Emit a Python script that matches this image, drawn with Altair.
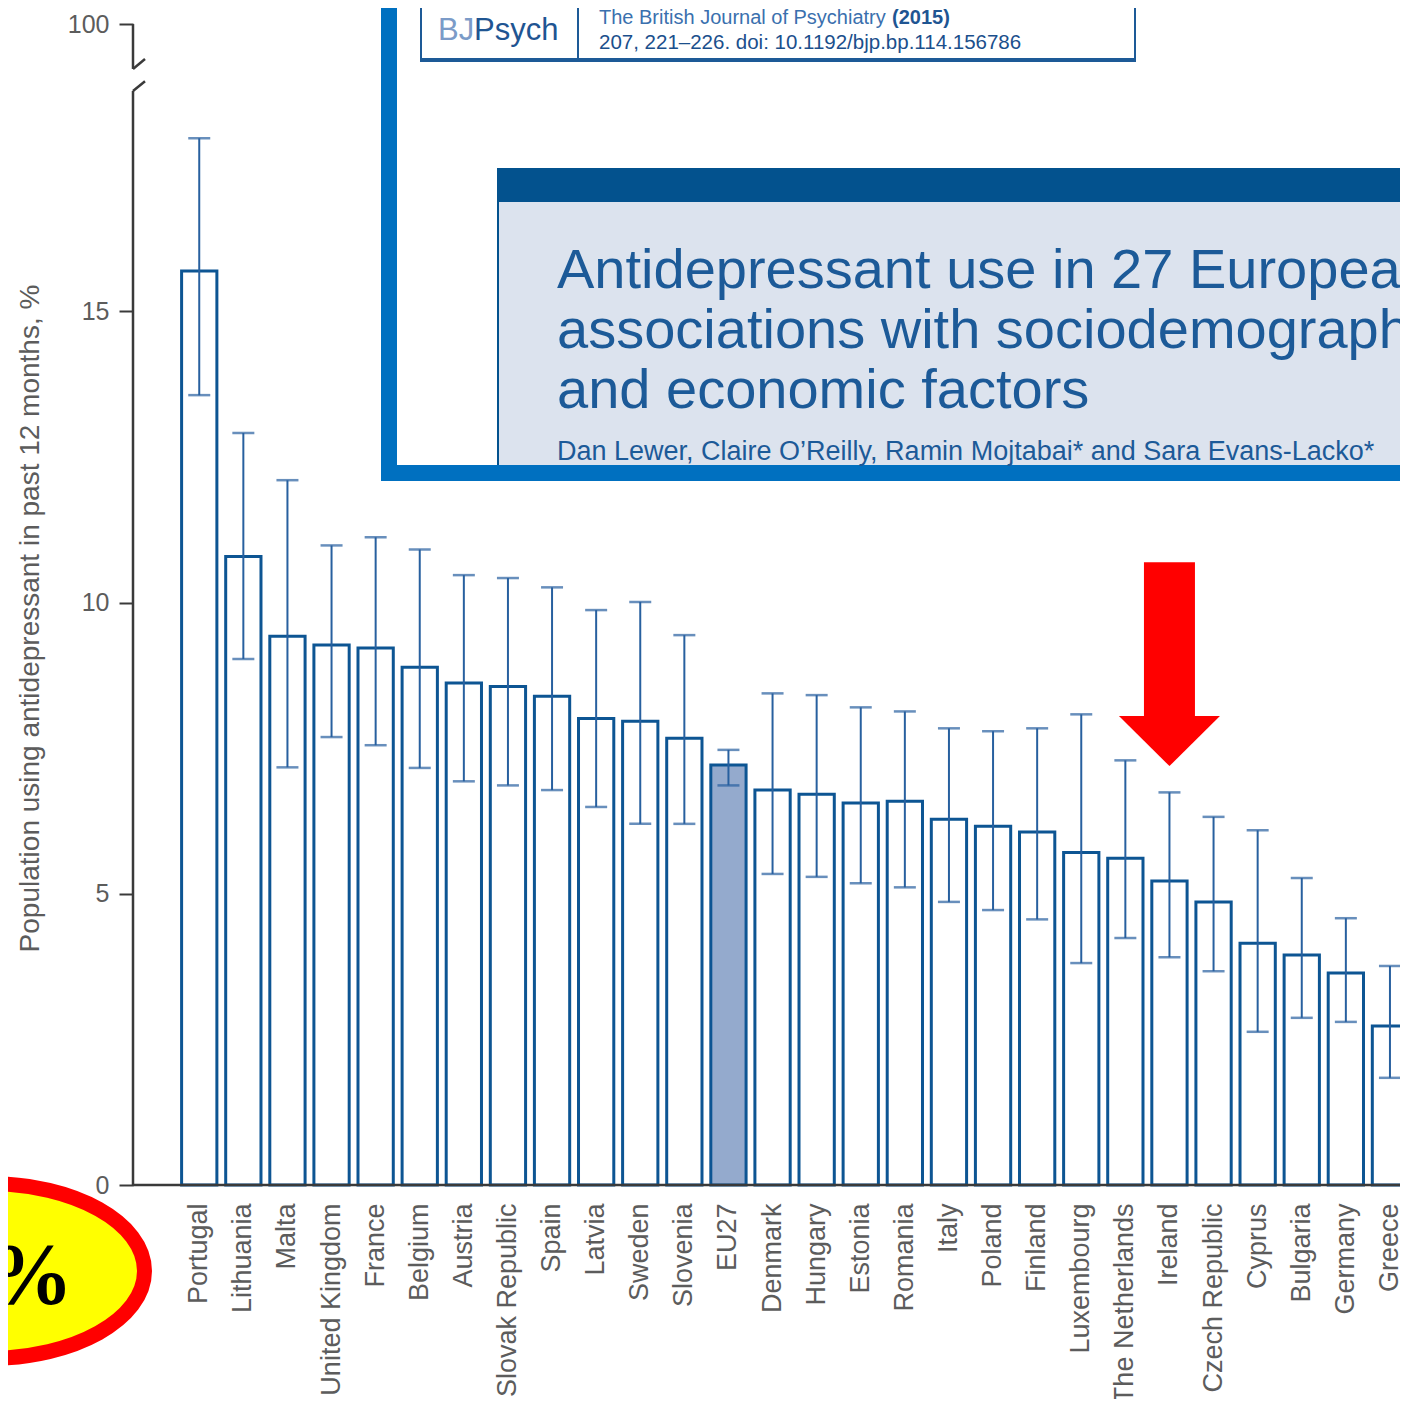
import altair as alt
import pandas as pd

# ---------------- data ----------------
countries = ["Portugal", "Lithuania", "Malta", "United Kingdom", "France", "Belgium",
             "Austria", "Slovak Republic", "Spain", "Latvia", "Sweden", "Slovenia",
             "EU27", "Denmark", "Hungary", "Estonia", "Romania", "Italy", "Poland",
             "Finland", "Luxembourg", "The Netherlands", "Ireland", "Czech Republic",
             "Cyprus", "Bulgaria", "Germany", "Greece"]
values = [15.69, 10.79, 9.42, 9.27, 9.22, 8.89, 8.62, 8.56, 8.39, 8.01, 7.96, 7.67,
          7.21, 6.78, 6.71, 6.56, 6.59, 6.28, 6.16, 6.06, 5.71, 5.61, 5.22, 4.86,
          4.15, 3.95, 3.64, 2.73]
ci_high = [17.97, 12.91, 12.10, 10.98, 11.12, 10.91, 10.47, 10.42, 10.26, 9.87, 10.01, 9.44,
           7.47, 8.44, 8.41, 8.20, 8.13, 7.84, 7.79, 7.84, 8.08, 7.29, 6.74, 6.32,
           6.09, 5.27, 4.58, 3.76]
ci_low = [13.56, 9.03, 7.17, 7.69, 7.55, 7.16, 6.93, 6.86, 6.78, 6.49, 6.20, 6.20,
          6.86, 5.34, 5.29, 5.18, 5.11, 4.86, 4.72, 4.56, 3.81, 4.24, 3.91, 3.67,
          2.63, 2.87, 2.80, 1.84]
highlight = "EU27"

y_title = "Population using antidepressant in past 12 months, %"
y_tick_values = [0, 5, 10, 15, 19.93]          # the top tick carries the "100" label (broken axis)
break_vertical_lo = [0, 19.16]
break_vertical_hi = [18.78, 19.93]
break_slash_lo = [18.78, 19.16]
break_slash_hi = [18.95, 19.33]
x_axis_value = [0]

arrow_target = ["Ireland"]
arrow_top = [10.69]
arrow_base = [8.05]

journal_name = "The British Journal of Psychiatry"
journal_year = "(2015)"
journal_ref = "207, 221–226. doi: 10.1192/bjp.bp.114.156786"
logo_parts = ["BJ", "Psych"]
title_lines = ["Antidepressant use in 27 European countries:",
               "associations with sociodemographic, cultural",
               "and economic factors"]
authors = "Dan Lewer, Claire O’Reilly, Ramin Mojtabai* and Sara Evans-Lacko*"
badge_text = "10%"

# ---------------- styles ----------------
BAR_BLUE = "#0d5593"
ERR_BLUE = "#28609f"
EU_FILL = "#94aacd"
AXIS_COL = "#3a3a3a"
LABEL_COL = "#5c5c5c"
FRAME_BLUE = "#0070c0"
DARK_BLUE = "#03528e"
TEXT_BLUE = "#1c5a98"
FONT = "Liberation Sans, Arial, sans-serif"
PLOT_W = 1267

df = pd.DataFrame({"country": countries, "value": values, "hi": ci_high, "lo": ci_low})
one = pd.DataFrame({"k": [0]})

x_main = alt.X(
    "country:N", sort=countries,
    scale=alt.Scale(range=[4.5, 1318.7], paddingInner=0.2, paddingOuter=1),
    axis=alt.Axis(title=None, labelAngle=270, ticks=False, labelPadding=18,
                  labelFontSize=27, labelColor=LABEL_COL, labelFont=FONT,
                  labelLimit=400, domain=False, grid=False),
)
x_plain = alt.X("country:N", sort=countries)

y_main = alt.Y(
    "value:Q",
    scale=alt.Scale(domain=[0, 20], nice=False),
    axis=alt.Axis(values=y_tick_values, format="d",
                  labelExpr="datum.value > 19 ? '100' : format(datum.value, 'd')",
                  domain=False, grid=False, tickSize=14, tickWidth=2, tickColor=AXIS_COL,
                  labelFontSize=25, labelColor=LABEL_COL, labelFont=FONT, labelPadding=10,
                  title=y_title, titleFontSize=28, titleFont=FONT, titleFontWeight="normal",
                  titleColor=LABEL_COL, titleX=-103, titleY=598,
                  titleBaseline="middle", titleAlign="center"),
    title=y_title,
)


def yq(field):
    return alt.Y(field + ":Q", title=y_title)


bars = alt.Chart(df).mark_bar(stroke=BAR_BLUE, strokeWidth=3).encode(
    x=x_main, y=y_main,
    fill=alt.condition(alt.datum.country == highlight, alt.value(EU_FILL), alt.value("white")),
)
err = alt.Chart(df).mark_rule(color=ERR_BLUE, strokeWidth=2).encode(
    x=x_plain, y=yq("lo"), y2=alt.Y2("hi:Q", title=y_title))
cap_hi = alt.Chart(df).mark_tick(color=ERR_BLUE, thickness=2.5, size=22).encode(x=x_plain, y=yq("hi"))
cap_lo = alt.Chart(df).mark_tick(color=ERR_BLUE, thickness=2.5, size=22).encode(x=x_plain, y=yq("lo"))

x_line = alt.Chart(pd.DataFrame({"v": x_axis_value})).mark_rule(
    color=AXIS_COL, strokeWidth=2.5).encode(x=alt.value(0), x2=alt.value(PLOT_W), y=yq("v"))
brk_v = alt.Chart(pd.DataFrame({"a": break_vertical_lo, "b": break_vertical_hi})).mark_rule(
    color=AXIS_COL, strokeWidth=2.5).encode(x=alt.value(0), y=yq("a"), y2=alt.Y2("b:Q", title=y_title))
brk_s = alt.Chart(pd.DataFrame({"a": break_slash_lo, "b": break_slash_hi})).mark_rule(
    color=AXIS_COL, strokeWidth=2.5).encode(x=alt.value(0), x2=alt.value(12),
                                            y=yq("a"), y2=alt.Y2("b:Q", title=y_title))

# ---------------- pasted journal header (pixel layout in plot coordinates) ----------------
overlay_rects = [
    # x0, x1, y0, y1, colour
    (248, 1300, -40, 461, FRAME_BLUE),
    (264, 1300, -40, 445, "white"),
    (287, 1003, -40, 42, "#1d5a97"),
    (289, 1001, -40, 38, "white"),
    (444, 446, -40, 38, "#1d5a97"),
    (364, 1300, 148, 182, DARK_BLUE),
    (364, 1300, 182, 445, "#dce3ee"),
    (364, 366, 182, 445, DARK_BLUE),
]
rect_layers = [
    alt.Chart(one).mark_rect(color=c).encode(
        x=alt.value(x0), x2=alt.value(x1), y=alt.value(y0), y2=alt.value(y1))
    for (x0, x1, y0, y1, c) in overlay_rects
]

text_specs = [
    # text, x, y(baseline), size, colour, weight
    (logo_parts[0], 305, 20, 31, "#7b9bc8", "normal"),
    (logo_parts[1], 341, 20, 31, "#1f5592", "normal"),
    (journal_name, 466, 4, 20, "#3a70ae", "normal"),
    (journal_year, 759, 4, 20, "#1f5592", "bold"),
    (journal_ref, 466, 29, 20.5, "#1b4f8c", "normal"),
    (title_lines[0], 424, 268, 56, TEXT_BLUE, "normal"),
    (title_lines[1], 424, 328, 56, TEXT_BLUE, "normal"),
    (title_lines[2], 424, 388, 56, TEXT_BLUE, "normal"),
    (authors, 424, 440, 27, TEXT_BLUE, "normal"),
]
text_layers = [
    alt.Chart(one).mark_text(text=t, align="left", baseline="alphabetic", fontSize=s,
                             color=c, font=FONT, fontWeight=w).encode(
        x=alt.value(x), y=alt.value(y))
    for (t, x, y, s, c, w) in text_specs
]

# ---------------- red arrow pointing at Ireland ----------------
arrow_df = pd.DataFrame({"country": arrow_target, "top": arrow_top, "base": arrow_base})
shaft = alt.Chart(arrow_df).mark_bar(color="#ff0000", width=51).encode(
    x=x_plain, y=yq("top"), y2=alt.Y2("base:Q", title=y_title))
head = alt.Chart(arrow_df).mark_point(shape="M-1,0L1,0L0,0.99Z", size=10201, filled=True,
                                      color="#ff0000", opacity=1, strokeWidth=0).encode(
    x=x_plain, y=yq("base"))

# ---------------- yellow badge bottom-left ----------------
ELLIPSE = ("M-1,0C-1,-0.309 -0.552,-0.559 0,-0.559C0.552,-0.559 1,-0.309 1,0"
           "C1,0.309 0.552,0.559 0,0.559C-0.552,0.559 -1,0.309 -1,0Z")
badge = alt.Chart(one).mark_point(shape=ELLIPSE, size=97969, filled=True, fill="#ffff00",
                                  stroke="#ff0000", strokeWidth=15, opacity=1).encode(
    x=alt.value(-145), y=alt.value(1251))
badge_txt = alt.Chart(one).mark_text(text=badge_text, align="right", baseline="alphabetic",
                                     fontSize=86, fontWeight="bold", color="black",
                                     font="Liberation Serif, Times New Roman, serif").encode(
    x=alt.value(-60), y=alt.value(1283))

chart = alt.layer(
    bars, err, cap_hi, cap_lo, x_line, brk_v, brk_s,
    *rect_layers, *text_layers, shaft, head, badge, badge_txt,
).properties(
    width=PLOT_W, height=1165,
    autosize=alt.AutoSizeParams(type="none"),
    padding={"left": 125, "top": 12, "right": 0, "bottom": 214},
    background="white",
).configure_view(strokeWidth=0)

chart.save("out.html", embed_options={"renderer": "svg", "actions": False})
